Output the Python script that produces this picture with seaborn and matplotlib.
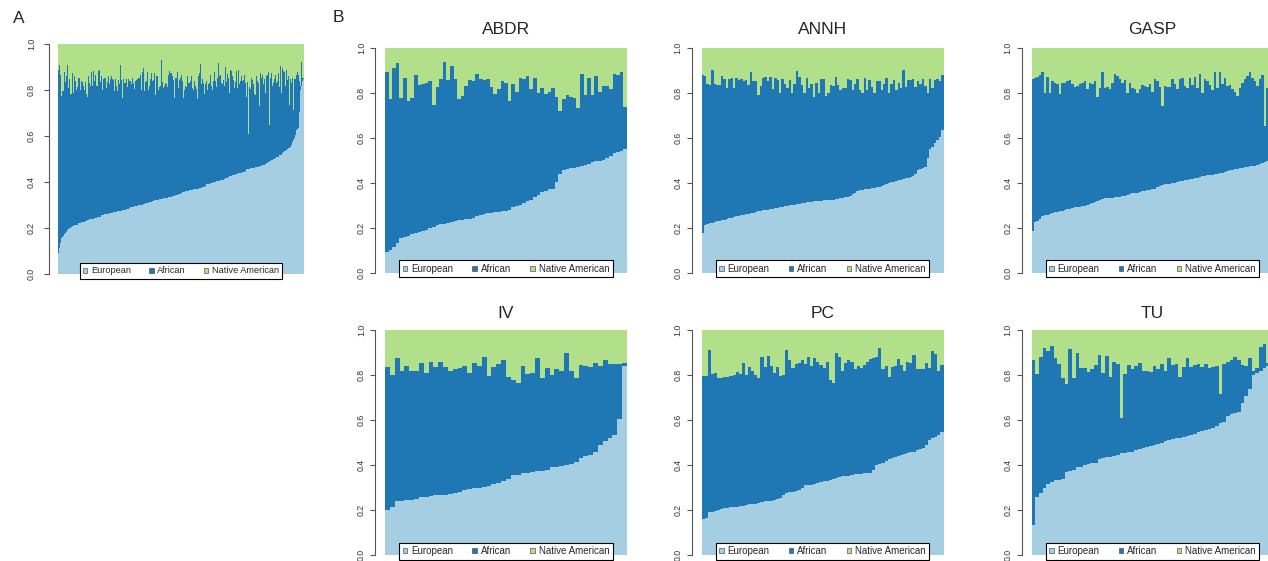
import numpy as np
import pandas as pd
import matplotlib
matplotlib.use("Agg")
import matplotlib.pyplot as plt
from matplotlib.patches import Patch
import seaborn as sns

# ---------------- data (ancestry proportions per individual) ----------------
COMPONENTS = ["European", "African", "Native American"]
COLORS = ["#A6CEE3", "#1F78B4", "#B2DF8A"]

ABDR_european = [0.09, 0.10, 0.115, 0.13, 0.155, 0.16, 0.165, 0.17, 0.175, 0.18,
                 0.185, 0.19, 0.20, 0.205, 0.21, 0.215, 0.215, 0.22, 0.225, 0.23,
                 0.235, 0.235, 0.24, 0.24, 0.245, 0.25, 0.255, 0.26, 0.265, 0.265,
                 0.27, 0.27, 0.275, 0.275, 0.28, 0.29, 0.295, 0.30, 0.31, 0.32,
                 0.325, 0.335, 0.345, 0.36, 0.365, 0.37, 0.37, 0.405, 0.44, 0.455,
                 0.46, 0.465, 0.465, 0.47, 0.475, 0.48, 0.485, 0.49, 0.495, 0.495,
                 0.50, 0.51, 0.52, 0.53, 0.535, 0.54, 0.55]
ABDR_native = [0.11, 0.23, 0.09, 0.07, 0.225, 0.135, 0.235, 0.225, 0.12, 0.165,
               0.16, 0.155, 0.15, 0.255, 0.175, 0.14, 0.065, 0.145, 0.08, 0.14,
               0.23, 0.215, 0.17, 0.145, 0.15, 0.115, 0.14, 0.145, 0.14, 0.175,
               0.205, 0.185, 0.15, 0.155, 0.235, 0.16, 0.195, 0.135, 0.14, 0.125,
               0.185, 0.135, 0.20, 0.18, 0.205, 0.195, 0.18, 0.22, 0.28, 0.23,
               0.21, 0.22, 0.225, 0.27, 0.115, 0.21, 0.135, 0.21, 0.125, 0.195,
               0.17, 0.17, 0.185, 0.115, 0.12, 0.11, 0.265]

ANNH_european = [0.175, 0.21, 0.215, 0.22, 0.222, 0.225, 0.228, 0.23, 0.232, 0.235,
                 0.24, 0.242, 0.245, 0.247, 0.25, 0.252, 0.255, 0.257, 0.26, 0.262,
                 0.265, 0.267, 0.27, 0.272, 0.275, 0.277, 0.28, 0.28, 0.282, 0.284,
                 0.286, 0.288, 0.29, 0.292, 0.295, 0.297, 0.30, 0.301, 0.303, 0.305,
                 0.307, 0.309, 0.311, 0.313, 0.315, 0.316, 0.317, 0.318, 0.319, 0.32,
                 0.321, 0.322, 0.323, 0.324, 0.325, 0.326, 0.328, 0.33, 0.332, 0.335,
                 0.338, 0.342, 0.348, 0.355, 0.362, 0.366, 0.368, 0.37, 0.372, 0.374,
                 0.376, 0.378, 0.38, 0.383, 0.386, 0.39, 0.394, 0.398, 0.402, 0.405,
                 0.407, 0.41, 0.413, 0.416, 0.42, 0.423, 0.426, 0.43, 0.44, 0.455,
                 0.462, 0.465, 0.468, 0.51, 0.548, 0.558, 0.575, 0.59, 0.605, 0.635]
ANNH_native = [0.12, 0.125, 0.16, 0.165, 0.10, 0.16, 0.165, 0.165, 0.125, 0.14,
               0.18, 0.14, 0.135, 0.18, 0.135, 0.145, 0.14, 0.15, 0.145, 0.165,
               0.11, 0.15, 0.15, 0.21, 0.17, 0.135, 0.13, 0.15, 0.13, 0.185,
               0.135, 0.145, 0.20, 0.14, 0.16, 0.18, 0.145, 0.20, 0.16, 0.105,
               0.13, 0.165, 0.20, 0.135, 0.18, 0.16, 0.22, 0.155, 0.20, 0.14,
               0.14, 0.215, 0.20, 0.165, 0.17, 0.13, 0.165, 0.19, 0.18, 0.18,
               0.14, 0.145, 0.19, 0.16, 0.14, 0.19, 0.20, 0.135, 0.19, 0.145,
               0.175, 0.20, 0.15, 0.15, 0.19, 0.16, 0.135, 0.20, 0.16, 0.145,
               0.19, 0.155, 0.18, 0.10, 0.175, 0.145, 0.145, 0.14, 0.175, 0.15,
               0.16, 0.14, 0.17, 0.20, 0.14, 0.18, 0.145, 0.14, 0.15, 0.12]

GASP_european = [0.185, 0.225, 0.23, 0.24, 0.25, 0.255, 0.258, 0.262, 0.265, 0.268,
                 0.27, 0.273, 0.276, 0.28, 0.282, 0.285, 0.287, 0.29, 0.292, 0.294,
                 0.296, 0.298, 0.30, 0.305, 0.31, 0.315, 0.32, 0.325, 0.328, 0.33,
                 0.331, 0.332, 0.333, 0.335, 0.336, 0.338, 0.34, 0.343, 0.346, 0.35,
                 0.352, 0.354, 0.356, 0.36, 0.362, 0.364, 0.366, 0.368, 0.37, 0.372,
                 0.38, 0.385, 0.39, 0.392, 0.394, 0.396, 0.398, 0.40, 0.403, 0.406,
                 0.408, 0.41, 0.413, 0.416, 0.418, 0.42, 0.423, 0.426, 0.428, 0.43,
                 0.432, 0.434, 0.436, 0.438, 0.44, 0.442, 0.444, 0.446, 0.45, 0.455,
                 0.458, 0.46, 0.462, 0.464, 0.466, 0.468, 0.47, 0.472, 0.474, 0.476,
                 0.478, 0.482, 0.486, 0.49, 0.495, 0.50, 0.51]
GASP_native = [0.14, 0.135, 0.13, 0.12, 0.11, 0.20, 0.13, 0.20, 0.15, 0.155,
               0.16, 0.205, 0.155, 0.155, 0.15, 0.145, 0.16, 0.175, 0.17, 0.16,
               0.155, 0.15, 0.185, 0.155, 0.16, 0.15, 0.22, 0.18, 0.11, 0.18,
               0.175, 0.185, 0.155, 0.115, 0.125, 0.14, 0.155, 0.145, 0.20, 0.155,
               0.18, 0.185, 0.20, 0.185, 0.165, 0.17, 0.175, 0.16, 0.195, 0.14,
               0.15, 0.175, 0.26, 0.17, 0.175, 0.175, 0.14, 0.16, 0.185, 0.14,
               0.135, 0.17, 0.18, 0.135, 0.165, 0.13, 0.18, 0.115, 0.20, 0.14,
               0.15, 0.165, 0.19, 0.11, 0.18, 0.11, 0.16, 0.135, 0.17, 0.165,
               0.185, 0.195, 0.215, 0.18, 0.155, 0.14, 0.125, 0.11, 0.135, 0.15,
               0.17, 0.14, 0.12, 0.35, 0.18, 0.17, 0.16]

IV_european = [0.20, 0.215, 0.24, 0.24, 0.245, 0.245, 0.25, 0.26, 0.26, 0.262,
               0.265, 0.265, 0.268, 0.27, 0.275, 0.28, 0.29, 0.295, 0.30, 0.30,
               0.302, 0.305, 0.315, 0.32, 0.33, 0.34, 0.355, 0.355, 0.365, 0.365,
               0.37, 0.375, 0.375, 0.38, 0.39, 0.39, 0.395, 0.40, 0.405, 0.415,
               0.43, 0.44, 0.445, 0.46, 0.49, 0.505, 0.52, 0.535, 0.605, 0.84]
IV_native = [0.165, 0.20, 0.125, 0.18, 0.16, 0.18, 0.18, 0.145, 0.19, 0.14,
             0.165, 0.14, 0.165, 0.18, 0.175, 0.17, 0.16, 0.19, 0.145, 0.16,
             0.12, 0.205, 0.165, 0.15, 0.135, 0.21, 0.22, 0.235, 0.16, 0.195,
             0.19, 0.125, 0.215, 0.17, 0.20, 0.175, 0.18, 0.10, 0.18, 0.215,
             0.155, 0.16, 0.165, 0.145, 0.16, 0.135, 0.15, 0.15, 0.15, 0.145]

PC_european = [0.16, 0.165, 0.19, 0.19, 0.195, 0.20, 0.205, 0.21, 0.21, 0.212,
               0.215, 0.215, 0.218, 0.22, 0.222, 0.225, 0.225, 0.228, 0.23, 0.235,
               0.24, 0.24, 0.242, 0.245, 0.25, 0.255, 0.265, 0.275, 0.28, 0.28,
               0.285, 0.29, 0.30, 0.31, 0.31, 0.31, 0.315, 0.32, 0.325, 0.33,
               0.33, 0.335, 0.34, 0.342, 0.345, 0.35, 0.35, 0.352, 0.355, 0.358,
               0.36, 0.362, 0.363, 0.365, 0.365, 0.38, 0.40, 0.405, 0.41, 0.42,
               0.425, 0.43, 0.435, 0.44, 0.445, 0.45, 0.455, 0.46, 0.46, 0.465,
               0.47, 0.475, 0.49, 0.51, 0.52, 0.525, 0.535, 0.545]
PC_native = [0.205, 0.205, 0.09, 0.195, 0.19, 0.215, 0.215, 0.21, 0.21, 0.205,
             0.20, 0.185, 0.195, 0.145, 0.20, 0.165, 0.18, 0.20, 0.215, 0.12,
             0.165, 0.115, 0.16, 0.19, 0.165, 0.205, 0.20, 0.09, 0.135, 0.17,
             0.15, 0.145, 0.135, 0.15, 0.12, 0.16, 0.125, 0.14, 0.155, 0.17,
             0.14, 0.22, 0.235, 0.10, 0.12, 0.18, 0.145, 0.135, 0.14, 0.175,
             0.16, 0.17, 0.155, 0.14, 0.13, 0.125, 0.12, 0.08, 0.175, 0.16,
             0.21, 0.165, 0.16, 0.13, 0.155, 0.18, 0.14, 0.145, 0.11, 0.175,
             0.175, 0.175, 0.145, 0.17, 0.095, 0.105, 0.18, 0.155]

TU_european = [0.135, 0.26, 0.275, 0.30, 0.315, 0.325, 0.335, 0.335, 0.34, 0.37,
               0.375, 0.38, 0.39, 0.39, 0.40, 0.405, 0.41, 0.41, 0.425, 0.43,
               0.435, 0.435, 0.44, 0.445, 0.455, 0.455, 0.46, 0.46, 0.465, 0.47,
               0.475, 0.48, 0.485, 0.49, 0.495, 0.50, 0.505, 0.51, 0.515, 0.52,
               0.52, 0.525, 0.53, 0.535, 0.54, 0.545, 0.55, 0.555, 0.56, 0.565,
               0.575, 0.585, 0.59, 0.62, 0.625, 0.63, 0.635, 0.675, 0.705, 0.74,
               0.80, 0.81, 0.82, 0.83, 0.84, 0.85]
TU_native = [0.135, 0.195, 0.12, 0.08, 0.095, 0.07, 0.125, 0.15, 0.215, 0.24,
             0.085, 0.215, 0.10, 0.17, 0.17, 0.185, 0.175, 0.155, 0.11, 0.19,
             0.115, 0.21, 0.14, 0.15, 0.39, 0.195, 0.155, 0.175, 0.16, 0.145,
             0.18, 0.18, 0.185, 0.16, 0.175, 0.15, 0.18, 0.125, 0.155, 0.15,
             0.21, 0.165, 0.125, 0.165, 0.155, 0.15, 0.165, 0.15, 0.17, 0.165,
             0.16, 0.285, 0.15, 0.14, 0.135, 0.12, 0.135, 0.155, 0.16, 0.125,
             0.18, 0.17, 0.075, 0.06, 0.145, 0.145]

POPULATIONS = ["ABDR", "ANNH", "GASP", "IV", "PC", "TU"]
EUROPEAN = {"ABDR": ABDR_european, "ANNH": ANNH_european, "GASP": GASP_european,
            "IV": IV_european, "PC": PC_european, "TU": TU_european}
NATIVE = {"ABDR": ABDR_native, "ANNH": ANNH_native, "GASP": GASP_native,
          "IV": IV_native, "PC": PC_native, "TU": TU_native}


def make_frame(pop):
    eur = np.asarray(EUROPEAN[pop], dtype=float)
    nat = np.asarray(NATIVE[pop], dtype=float)
    n = min(len(eur), len(nat))
    eur, nat = eur[:n], nat[:n]
    afr = np.clip(1.0 - eur - nat, 0, None)
    return pd.DataFrame({"population": pop, "European": eur,
                         "African": afr, "Native American": nat})


frames = {p: make_frame(p) for p in POPULATIONS}
pooled = (pd.concat(frames.values(), ignore_index=True)
          .sort_values("European", kind="stable").reset_index(drop=True))

# ---------------- figure ----------------
sns.set_style("white")
plt.rcParams["font.family"] = ["Liberation Sans", "DejaVu Sans"]

W, H = 1268, 561
fig = plt.figure(figsize=(W / 100, H / 100), dpi=100)


def add_axes_px(left, top, width, height):
    return fig.add_axes([left / W, 1 - (top + height) / H, width / W, height / H])


def draw_panel(ax, df, title=None, legend_fs=7.0, title_pad=10, colspace=2.0,
               label_pad=3.0, outward=7.2):
    df = df.reset_index(drop=True).copy()
    df["idx"] = np.arange(len(df))
    df["cum_afr"] = df["European"] + df["African"]
    df["cum_all"] = df["cum_afr"] + df["Native American"]
    common = dict(x="idx", width=1.0, saturation=1, linewidth=0, errorbar=None,
                  antialiased=False, ax=ax, legend=False)
    sns.barplot(data=df, y="cum_all", color=COLORS[2], **common)
    sns.barplot(data=df, y="cum_afr", color=COLORS[1], **common)
    sns.barplot(data=df, y="European", color=COLORS[0], **common)

    n = len(df)
    ax.set_xlim(-0.5, n - 0.5)
    ax.set_ylim(0, 1)
    ax.set_xticks([])
    ax.set_xlabel("")
    ax.set_ylabel("")
    for s in ["top", "right", "bottom"]:
        ax.spines[s].set_visible(False)
    ax.spines["left"].set_position(("outward", outward))
    ax.spines["left"].set_bounds(0, 1)
    ax.spines["left"].set_color("#555555")
    ax.spines["left"].set_linewidth(0.8)
    ticks = [0.0, 0.2, 0.4, 0.6, 0.8, 1.0]
    ax.set_yticks(ticks)
    ax.set_yticklabels([f"{t:.1f}" for t in ticks])
    ax.tick_params(axis="y", left=True, direction="out", length=3.6, width=0.8,
                   color="#555555", labelcolor="#333333", labelsize=6.3,
                   pad=label_pad, labelrotation=90)
    for lab in ax.get_yticklabels():
        lab.set_va("center")

    handles = [Patch(facecolor=c, edgecolor="#555555", linewidth=0.5) for c in COLORS]
    leg = ax.legend(handles, COMPONENTS, loc="lower center", bbox_to_anchor=(0.5, -0.02),
                    ncol=3, fontsize=legend_fs, frameon=True, fancybox=False,
                    framealpha=1, edgecolor="black", handlelength=0.45,
                    handleheight=0.45, handletextpad=0.4, columnspacing=colspace,
                    borderpad=0.35, borderaxespad=0)
    leg.get_frame().set_linewidth(0.8)
    if title:
        ax.set_title(title, fontsize=12.5, pad=title_pad)


# Panel A: all individuals pooled
axA = add_axes_px(58.3, 44.3, 245.7, 229.7)
draw_panel(axA, pooled, legend_fs=6.6, colspace=2.0, label_pad=6.0, outward=6.5)

col_left = [385.0, 701.5, 1031.5]
row_top = [47.7, 330.0]
for i, pop in enumerate(POPULATIONS):
    r, c = divmod(i, 3)
    ax = add_axes_px(col_left[c], row_top[r], 242.0, 225.0)
    draw_panel(ax, frames[pop], title=pop, title_pad=10 if r == 0 else 9)

fig.text(18.8 / W, 1 - 18.8 / H, "A", fontsize=12.5, ha="center", va="center")
fig.text(338 / W, 1 - 17.5 / H, "B", fontsize=12.5, ha="center", va="center")

fig.savefig("out.png", dpi=100)
